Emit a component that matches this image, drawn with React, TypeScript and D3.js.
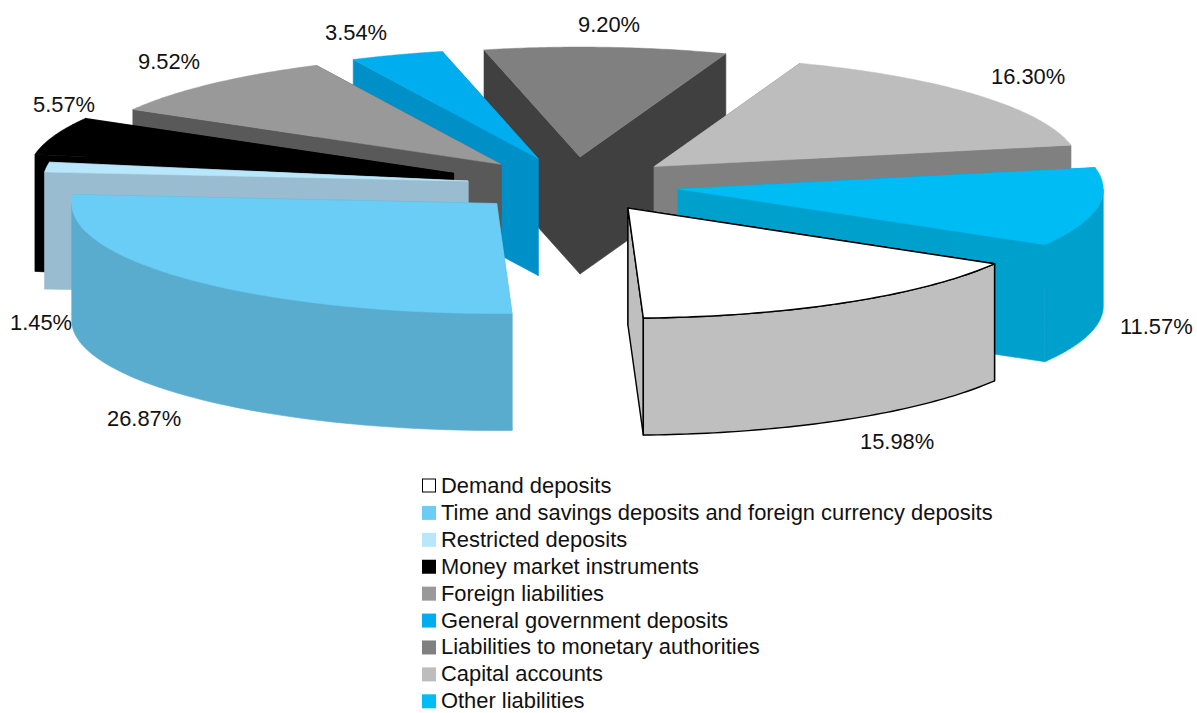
import React from "react";
import * as d3 from "d3";

const categories = [
  "Demand deposits",
  "Time and savings deposits and foreign currency deposits",
  "Restricted deposits",
  "Money market instruments",
  "Foreign liabilities",
  "General government deposits",
  "Liabilities to monetary authorities",
  "Capital accounts",
  "Other liabilities",
];
const shares = [15.98, 26.87, 1.45, 5.57, 9.52, 3.54, 9.2, 16.3, 11.57];
const topColors = ["#FFFFFF", "#69CDF6", "#B8E6FB", "#000000", "#999999", "#00AEEF", "#808080", "#BDBDBD", "#00BCF4"];
const wallColors = ["#BFBFBF", "#5AACCE", "#9ABCD0", "#000000", "#595959", "#0090C8", "#404040", "#808080", "#00A0CC"];
const explode = [0.25, 0.25, 0.25, 0.3, 0.25, 0.25, 0.25, 0.25, 0.25];
const paintOrder = [6, 5, 4, 3, 2, 7, 8, 1, 0];
const labelX = [860, 107, 10, 33, 138, 325, 578, 991, 1120];
const labelY = [449, 426, 330, 112, 69, 40, 32, 84, 334];

const W = 1197, H = 713;
const CX = 573.5, CY = 184.5, RX = 425, RY = 110, DEPTH = 117;
const START = (120.4 * Math.PI) / 180;
const FONT = "'Liberation Sans', Arial, Helvetica, sans-serif";
const FS = 21.9;

const pieGen = d3.pie<number>().sort(null).startAngle(START).endAngle(START + 2 * Math.PI);
const arcs = pieGen(shares);

const pt = (ox: number, oy: number, a: number, dz = 0): [number, number] => [
  ox + RX * Math.sin(a),
  oy - RY * Math.cos(a) + dz,
];
const line = d3.line<[number, number]>();
const sample = (a0: number, a1: number) => d3.range(0, 61).map((i) => a0 + ((a1 - a0) * i) / 60);

function frontRange(a0: number, a1: number): [number, number] | null {
  const tau = 2 * Math.PI;
  for (const k of [-1, 0, 1]) {
    const lo = Math.max(a0, Math.PI / 2 + k * tau);
    const hi = Math.min(a1, (3 * Math.PI) / 2 + k * tau);
    if (hi > lo) return [lo, hi];
  }
  return null;
}

export default function App() {
  const rowScale = d3.scalePoint<string>().domain(categories).range([486, 701.3]);
  return (
    <svg width={W} height={H} style={{ position: "absolute", left: 0, top: 0, background: "#fff" }} fontFamily={FONT}>
      {paintOrder.map((i) => {
        const a = arcs[i];
        const mid = (a.startAngle + a.endAngle) / 2;
        const ox = CX + explode[i] * RX * Math.sin(mid);
        const oy = CY - explode[i] * RY * Math.cos(mid);
        const apex: [number, number] = [ox, oy];
        const stroke = i === 0 ? "#000" : wallColors[i];
        const sw = i === 0 ? 1.4 : 0.6;
        const walls = [a.startAngle, a.endAngle]
          .map((ang) => ({ ang, y: pt(ox, oy, ang)[1] }))
          .sort((p, q) => p.y - q.y);
        const fr = frontRange(a.startAngle, a.endAngle);
        const topPts = [apex, ...sample(a.startAngle, a.endAngle).map((t) => pt(ox, oy, t))];
        return (
          <g key={categories[i]}>
            {walls.map((w) => (
              <path
                key={w.ang}
                d={line([apex, pt(ox, oy, w.ang), pt(ox, oy, w.ang, DEPTH), [ox, oy + DEPTH]]) + "Z"}
                fill={wallColors[i]}
                stroke={stroke}
                strokeWidth={sw}
                strokeLinejoin="round"
              />
            ))}
            {fr && (
              <path
                d={
                  line([
                    ...sample(fr[0], fr[1]).map((t) => pt(ox, oy, t)),
                    ...sample(fr[1], fr[0]).map((t) => pt(ox, oy, t, DEPTH)),
                  ]) + "Z"
                }
                fill={wallColors[i]}
                stroke={stroke}
                strokeWidth={sw}
                strokeLinejoin="round"
              />
            )}
            <path
              d={line(topPts) + "Z"}
              fill={topColors[i]}
              stroke={i === 0 ? "#000" : topColors[i]}
              strokeWidth={i === 0 ? 1.4 : 0.5}
              strokeLinejoin="round"
            />
          </g>
        );
      })}
      {shares.map((v, i) => (
        <text key={i} x={labelX[i]} y={labelY[i]} fontSize={FS} fill="#111">
          {v.toFixed(2)}%
        </text>
      ))}
      {categories.map((c, i) => {
        const y = rowScale(c)!;
        return (
          <g key={c}>
            <rect
              x={i === 0 ? 422.5 : 422}
              y={y - 7}
              width={i === 0 ? 13 : 14}
              height={i === 0 ? 13 : 14}
              fill={topColors[i]}
              stroke={i === 0 ? "#000" : "none"}
              strokeWidth={1}
            />
            <text x={441} y={y + 7} fontSize={FS} fill="#111">
              {c}
            </text>
          </g>
        );
      })}
    </svg>
  );
}
